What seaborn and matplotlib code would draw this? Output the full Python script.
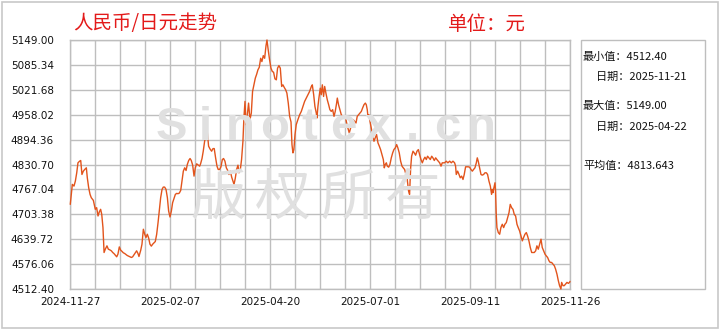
import numpy as np
import pandas as pd
import matplotlib
matplotlib.use("Agg")
import matplotlib.pyplot as plt
from matplotlib.patches import Rectangle
import seaborn as sns

# ---------------- data ----------------
title = "人民币/日元走势"
unit_text = "单位：元"
start_date = "2024-11-27"
x_labels = ["2024-11-27", "2025-02-07", "2025-04-20", "2025-07-01", "2025-09-11", "2025-11-26"]
y_labels = ["4512.40", "4576.06", "4639.72", "4703.38", "4767.04", "4830.70",
            "4894.36", "4958.02", "5021.68", "5085.34", "5149.00"]
stats_lines = ["最小值：4512.40", "  日期：2025-11-21", "最大值：5149.00", "  日期：2025-04-22", "平均值：4813.643"]

# days since start_date
day_offset = [
    0.2, 1.7, 2.9, 3.9, 4.9, 5.8, 7.0, 7.8, 8.7, 9.7, 10.7, 11.9, 12.6, 13.6, 14.6, 15.5,
    17.0, 18.4, 19.4, 20.4, 21.4, 22.3, 23.1, 24.0, 24.8, 25.7, 26.9, 27.9, 28.9, 30.1,
    31.1, 32.0, 33.0, 34.0, 34.9, 35.9, 36.9, 37.9, 38.8, 39.8, 40.8, 41.7, 42.7, 43.7,
    44.7, 45.6, 46.6, 47.6, 48.5, 49.5, 50.2, 51.5, 52.4, 53.4, 54.4, 55.3, 56.3, 57.3,
    58.2, 59.2, 60.2, 61.2, 62.1, 63.1, 64.1, 65.0, 66.0, 67.0, 67.9, 68.9, 69.9, 70.9,
    71.8, 72.8, 73.8, 74.7, 75.7, 76.7, 77.7, 78.6, 79.6, 80.6, 81.5, 82.5, 83.5, 84.5,
    85.4, 86.4, 87.4, 88.3, 89.3, 90.3, 91.2, 92.2,
    94.4, 95.1, 96.1, 97.0, 98.0, 99.0, 99.9, 100.9, 101.9, 103.1, 104.1, 105.0, 106.0,
    107.0, 107.9, 108.9, 109.9, 110.9, 111.8, 112.8, 113.8, 114.7, 115.7, 116.7, 117.7,
    118.6, 119.4, 120.3, 121.3, 122.3, 123.0, 124.0, 124.9, 125.9, 126.6, 127.4, 128.1,
    129.1, 130.0, 131.0, 132.0, 132.9, 133.9, 134.9, 135.9, 136.8, 137.8, 138.8, 139.7,
    140.7, 141.7, 142.7, 143.4, 144.3, 145.3, 146.3, 147.3, 148.2, 149.2, 150.2, 151.1,
    152.1, 153.1, 154.1, 155.0, 156.0, 157.0, 157.9, 158.9, 159.9, 160.9, 161.6, 162.3,
    163.0, 163.8, 164.7, 165.9, 167.2, 168.4, 169.6, 170.8, 172.0, 173.2, 174.4, 175.7,
    176.4, 177.4, 178.3, 179.3, 179.8, 180.5,
    181.2, 182.2, 182.9, 183.7, 184.6, 185.4, 186.3, 187.3, 188.3, 189.2, 190.2, 191.2,
    192.2, 193.1, 194.1, 194.6, 195.5, 196.5, 197.5, 198.5, 199.4, 200.4, 201.4, 202.3,
    203.3, 204.3, 205.3, 206.2, 207.2, 208.2, 209.1, 210.1, 211.1, 212.1, 213.0, 214.0,
    215.0, 215.7, 216.4, 216.9, 217.6, 218.4, 219.3, 220.3, 221.3, 222.2, 223.2, 224.2,
    225.2, 226.1, 227.1, 228.1, 228.8, 229.5, 230.3, 231.0, 232.0, 232.9, 233.9, 234.9,
    235.8, 236.8, 237.8, 238.7, 239.7, 240.7, 241.7, 242.6, 243.6, 244.6, 245.5, 246.5,
    247.2, 248.0, 248.7, 249.7, 250.6, 251.6, 252.6, 253.6, 254.5, 255.5, 256.5, 257.4,
    258.4, 259.4, 260.3, 261.3, 262.3, 263.3, 264.2, 265.2, 266.2, 267.1, 268.1, 269.1,
    270.1, 271.0,
    272.7, 273.9, 275.1, 276.4, 277.6, 278.8, 280.0, 280.7, 281.2, 282.2, 283.2, 284.1,
    285.1, 286.1, 287.0, 288.0, 289.0, 289.9, 290.9, 291.9, 292.9, 293.8, 294.8, 295.8,
    296.5, 297.2, 298.2, 299.2, 300.1, 301.1, 302.1, 303.1, 304.0, 305.0, 306.0, 306.9,
    307.4, 307.9, 308.6, 309.4, 309.8, 310.3, 310.8, 311.8, 312.8, 313.7, 314.7, 315.7,
    316.6, 317.6, 318.6, 319.6, 320.5, 321.5, 322.5, 323.4, 324.4, 325.4, 326.3, 327.3,
    328.3, 329.3, 330.2, 331.2, 332.2, 333.1, 334.1, 335.1, 336.1, 337.0, 338.0, 339.0,
    339.9, 340.9, 341.9, 342.9, 343.8, 344.8, 345.8, 346.7, 347.7, 348.7, 349.6, 350.6,
    351.6, 352.6, 353.5, 354.5, 355.5, 356.4, 357.4, 357.9, 358.9, 359.8, 360.8, 361.8,
    362.8, 363.7, 364.0,
]
rate = [
    4728.8, 4779.8, 4775.5, 4788.3, 4809.5, 4835.0, 4839.2, 4840.9, 4805.2, 4813.7, 4818.0, 4822.2, 4796.7, 4771.3, 4754.3, 4745.8,
    4739.0, 4716.1, 4720.3, 4699.1, 4710.0, 4716.1, 4703.4, 4669.4, 4605.7, 4614.2, 4622.7, 4614.2, 4612.6, 4610.0,
    4605.7, 4603.0, 4599.0, 4594.7, 4601.5, 4620.0, 4611.7, 4608.4, 4605.0, 4603.2, 4600.6, 4598.0, 4596.4, 4594.7,
    4593.0, 4594.7, 4600.0, 4605.7, 4610.0, 4603.0, 4595.5, 4611.7, 4627.0, 4665.2, 4652.4, 4644.0, 4652.4, 4642.3,
    4627.0, 4622.0, 4627.0, 4630.4, 4633.8, 4652.4, 4682.1, 4711.8, 4745.8, 4767.0, 4773.0, 4773.0, 4767.0, 4745.8,
    4711.8, 4696.5, 4711.8, 4733.0, 4744.0, 4754.3, 4756.9, 4756.0, 4757.7, 4764.5, 4788.3, 4813.7, 4822.2, 4815.4,
    4830.7, 4840.9, 4846.0, 4840.9, 4829.0, 4801.0, 4822.2, 4832.4,
    4826.5, 4833.0, 4846.0, 4864.7, 4890.1, 4905.4, 4915.6, 4877.4, 4870.6, 4864.7, 4871.4, 4871.4, 4847.7,
    4826.5, 4818.0, 4818.0, 4824.8, 4843.4, 4846.0, 4839.2, 4822.2, 4816.3, 4805.2, 4813.7, 4798.4,
    4788.3, 4779.8, 4795.0, 4818.0, 4829.0, 4809.5, 4818.0, 4843.4, 4890.1, 4949.5, 4992.0, 4932.6,
    4958.0, 4987.7, 4945.3, 4962.3, 5017.4, 5034.4, 5051.4, 5061.6, 5072.6, 5079.4, 5102.3, 5093.8,
    5109.1, 5102.3, 5134.6, 5149.0, 5123.5, 5098.1, 5076.9, 5068.4, 5066.7, 5049.7, 5047.1, 5076.9,
    5083.6, 5076.9, 5030.2, 5034.4, 5027.6, 5021.7, 5013.2, 4987.7, 4953.8, 4939.3, 4881.6, 4860.4,
    4868.9, 4907.1, 4932.6, 4945.3, 4958.0, 4966.5, 4979.2, 4992.0, 5000.5, 5009.0, 5017.4, 5030.2,
    5034.4, 5009.0, 4979.2, 4962.3, 4949.5, 4979.2,
    5000.5, 5025.9, 5009.0, 5034.4, 5004.7, 5030.2, 5013.2, 4996.2, 4983.5, 4970.8, 4966.5, 4970.8,
    4953.8, 4966.5, 4987.7, 5000.5, 4983.5, 4970.8, 4958.0, 4953.8, 4949.5, 4953.8, 4936.8, 4924.1,
    4911.3, 4924.1, 4936.8, 4945.3, 4941.0, 4936.8, 4953.8, 4958.0, 4962.3, 4966.5, 4975.0, 4983.5,
    4987.7, 4983.5, 4970.8, 4953.8, 4958.0, 4941.0, 4924.1, 4907.1, 4890.1, 4898.6, 4907.1, 4885.9,
    4877.4, 4868.9, 4856.2, 4843.4, 4822.2, 4830.7, 4835.0, 4826.5, 4823.9, 4830.7, 4847.7, 4860.4,
    4868.9, 4873.1, 4881.6, 4873.1, 4860.4, 4839.2, 4826.5, 4822.2, 4818.0, 4805.2, 4792.5, 4762.8,
    4754.3, 4822.2, 4851.9, 4864.7, 4860.4, 4854.5, 4864.7, 4868.9, 4856.2, 4843.4, 4835.0, 4843.4,
    4849.4, 4843.4, 4851.9, 4847.7, 4843.4, 4851.9, 4847.7, 4840.9, 4847.7, 4843.4, 4839.2, 4835.0,
    4826.5, 4835.0,
    4835.0, 4839.2, 4835.0, 4839.2, 4835.0, 4839.2, 4835.0, 4826.5, 4805.2, 4813.7, 4805.2, 4796.7,
    4801.0, 4792.5, 4805.2, 4824.8, 4824.8, 4824.8, 4823.9, 4818.0, 4813.7, 4818.0, 4822.2, 4835.0,
    4847.7, 4839.2, 4822.2, 4805.2, 4803.5, 4805.2, 4809.5, 4809.5, 4805.2, 4788.3, 4775.5, 4754.3,
    4767.0, 4758.6, 4771.3, 4784.0, 4762.8, 4703.4, 4669.4, 4656.7, 4652.4, 4669.4, 4677.9, 4669.4,
    4677.9, 4682.1, 4694.9, 4707.6, 4728.8, 4720.3, 4716.1, 4703.4, 4699.1, 4677.9, 4669.4, 4660.9,
    4648.2, 4635.5, 4644.0, 4652.4, 4656.7, 4648.2, 4635.5, 4618.5, 4605.7, 4605.7, 4605.7, 4610.0,
    4622.7, 4614.2, 4627.0, 4639.7, 4618.5, 4610.0, 4601.5, 4597.2, 4593.0, 4584.5, 4580.3, 4580.3,
    4576.0, 4571.8, 4563.3, 4550.6, 4533.6, 4520.9, 4512.4, 4529.3, 4520.9, 4520.9, 4525.1, 4529.3,
    4526.8, 4529.3, 4531.9,
]

# ---------------- styling ----------------
sns.set_theme(style="white")
plt.rcParams["font.family"] = ["Noto Sans CJK SC", "DejaVu Sans"]

W, H = 720, 330
fig = plt.figure(figsize=(W / 100, H / 100), dpi=100)
fig.patch.set_facecolor("white")

def fx(px):
    return px / W

def fy(py):
    return 1 - py / H

# outer frame
fig.patches.append(Rectangle((fx(1.5), fy(328)), fx(716.5), (326.5) / H, transform=fig.transFigure,
                             fill=False, edgecolor="#C8C8C8", linewidth=1.2))

ax = fig.add_axes([fx(70), fy(289), 500 / W, 249 / H])
ax.set_facecolor("white")

span = 364
ax.set_xlim(0, span)
ylo, yhi = float(y_labels[0]), float(y_labels[-1])
ax.set_ylim(ylo, yhi)

# watermark
wm_color = "#E0E0E0"
wm_text = "Sinotex.cn"
for i, ch in enumerate(wm_text):
    fig.text(fx(171 + i * 34.5), fy(128), ch, ha="center", va="center", fontsize=34,
             fontweight="bold", color=wm_color, family=["Liberation Sans", "DejaVu Sans"], zorder=0.5)
for i, ch in enumerate("版权所有"):
    fig.text(fx(218 + i * 65), fy(199), ch, ha="center", va="center", fontsize=40,
             color=wm_color, family=["Noto Sans CJK SC"], zorder=0.5)
ax.patch.set_alpha(0)

# grid
ax.set_xticks(np.linspace(0, span, 21), minor=True)
ax.set_yticks([float(v) for v in y_labels])
ax.set_yticklabels(y_labels)
ax.set_xticks(np.linspace(0, span, len(x_labels)))
ax.set_xticklabels(x_labels)
ax.grid(True, which="both", axis="x", color="#BEBEBE", linewidth=1.0)
ax.grid(True, which="major", axis="y", color="#BEBEBE", linewidth=1.0)
ax.set_axisbelow(True)
for s in ax.spines.values():
    s.set_color("#BEBEBE")
    s.set_linewidth(1.0)

ax.tick_params(axis="both", which="both", length=0)
ax.tick_params(axis="y", pad=11.5, labelsize=7.5, labelcolor="#111111")
ax.tick_params(axis="x", pad=6, labelsize=7.5, labelcolor="#111111")
for lab in ax.get_yticklabels() + ax.get_xticklabels():
    lab.set_family(["DejaVu Sans"])

df = pd.DataFrame({"day": day_offset, "rate": rate})
sns.lineplot(data=df, x="day", y="rate", ax=ax, color="#E2541C", linewidth=1.0,
             estimator=None, sort=False, zorder=3, clip_on=False)
ax.set_xlabel("")
ax.set_ylabel("")

# titles
fig.text(fx(73), fy(24), title, ha="left", va="center", fontsize=14, color="#E31A1A")
fig.text(fx(448), fy(24), unit_text, ha="left", va="center", fontsize=14, color="#E31A1A")

# stats box
fig.patches.append(Rectangle((fx(581), fy(289)), (705 - 581) / W, (289 - 40) / H, transform=fig.transFigure,
                             fill=False, edgecolor="#BEBEBE", linewidth=1.0))
stat_y = [56.5, 76.5, 106, 126.5, 166]
for s, yy in zip(stats_lines, stat_y):
    xx = 583 if not s.startswith(" ") else 596
    fig.text(fx(xx), fy(yy), s.strip(), ha="left", va="center", fontsize=8, color="#111111")

fig.savefig("out.png", dpi=100)
